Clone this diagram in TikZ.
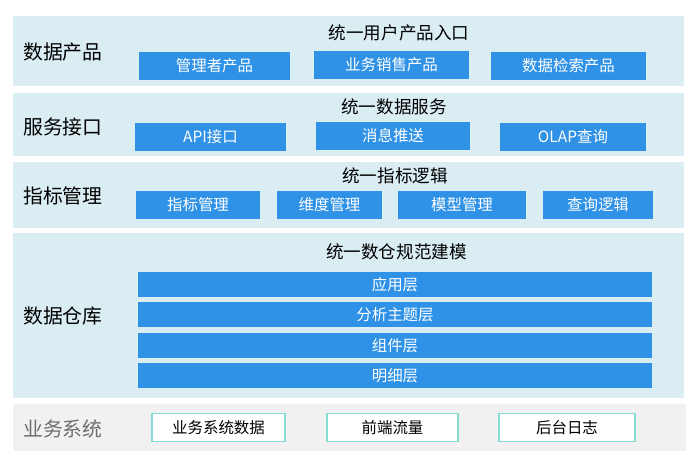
\documentclass[tikz,border=0pt]{standalone}
\usepackage{fontspec}
\setmainfont{Noto Sans CJK SC}
\definecolor{bandblue}{HTML}{DAEDF3}
\definecolor{boxblue}{HTML}{2F92E6}
\definecolor{bandgray}{HTML}{F1F1F1}
\definecolor{boxteal}{HTML}{84DCD2}
\definecolor{labgray}{HTML}{6E6E6E}
\begin{document}
\begin{tikzpicture}[x=0.02cm,y=-0.02cm,
band/.style={fill=bandblue,inner sep=0pt,minimum width=13.42cm},
layer/.style={anchor=west,font=\fontsize{11.3pt}{13pt}\selectfont},
title/.style={font=\fontsize{10pt}{12pt}\selectfont},
bluebox/.style={fill=boxblue,text=white,inner sep=0pt,minimum height=0.56cm,font=\fontsize{8.8pt}{10pt}\selectfont},
srcbox/.style={draw=boxteal,line width=0.7pt,fill=white,inner sep=0pt,minimum height=0.56cm,font=\fontsize{8.8pt}{10pt}\selectfont}]
\useasboundingbox (0,0) rectangle (692,459);
\node[band,minimum height=1.4cm](b1) at(348.5,51){};
\node[band,minimum height=1.26cm](b2) at(348.5,124.5){};
\node[band,minimum height=1.32cm](b3) at(348.5,195){};
\node[band,minimum height=3.3cm](b4) at(348.5,315.5){};
\node[band,fill=bandgray,minimum width=13.46cm,minimum height=0.94cm](b5) at(349.5,427.5){};
\node[layer](l1) at(17,52){数据产品};
\node[layer](l2) at(17,127){服务接口};
\node[layer](l3) at(17,196){指标管理};
\node[layer](l4) at(17,316){数据仓库};
\node[layer,text=labgray](l5) at(17,429){业务系统};
\node[title](t1) at(399,33){统一用户产品入口};
\node[bluebox,minimum width=3.02cm](p1) at(214.5,66){管理者产品};
\node[bluebox,minimum width=3.1cm](p2) at(391.5,65){业务销售产品};
\node[bluebox,minimum width=3.1cm](p3) at(568.5,66){数据检索产品};
\node[title](t2) at(394,107){统一数据服务};
\node[bluebox,minimum width=3.02cm](s1) at(210.5,137){API接口};
\node[bluebox,minimum width=3.08cm](s2) at(393,136){消息推送};
\node[bluebox,minimum width=2.92cm](s3) at(573,137){OLAP查询};
\node[title](t3) at(395,176){统一指标逻辑};
\node[bluebox,minimum width=2.48cm](m1) at(198,205){指标管理};
\node[bluebox,minimum width=2.1cm](m2) at(329.5,205){维度管理};
\node[bluebox,minimum width=2.56cm](m3) at(462,205){模型管理};
\node[bluebox,minimum width=2.2cm](m4) at(598,205){查询逻辑};
\node[title](t4) at(396.5,252){统一数仓规范建模};
\foreach \name/\txt [count=\i from 0] in {w1/应用层,w2/分析主题层,w3/组件层,w4/明细层}
  \node[bluebox,minimum width=10.28cm,minimum height=0.5cm](\name) at(395,284.5+30.4*\i){\txt};
\node[srcbox,minimum width=2.66cm](d1) at(218.5,427.5){业务系统数据};
\node[srcbox,minimum width=2.62cm](d2) at(392.5,427.5){前端流量};
\node[srcbox,minimum width=2.72cm](d3) at(567,427.5){后台日志};
\end{tikzpicture}
\end{document}
